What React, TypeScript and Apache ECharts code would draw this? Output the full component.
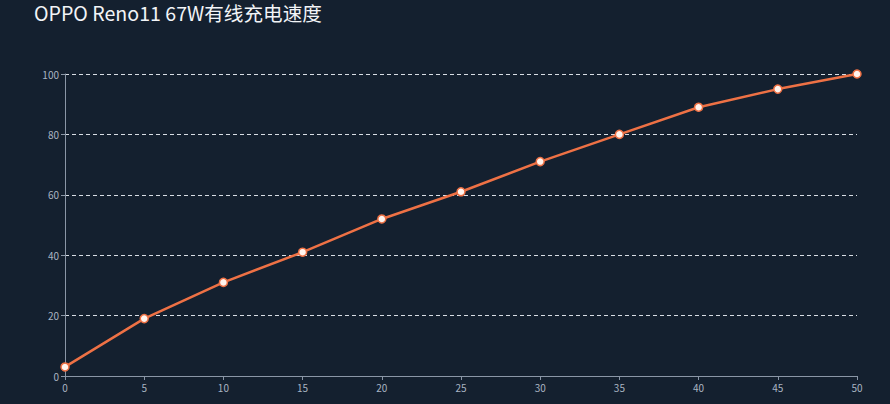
import React, { useEffect, useRef } from "react";
import * as echarts from "echarts";

const titleText = "OPPO Reno11 67W有线充电速度";
const minutes = [0, 5, 10, 15, 20, 25, 30, 35, 40, 45, 50];
const batteryPercent = [3, 19, 31, 41, 52, 61, 71, 80, 89, 95, 100];

export default function App() {
  const ref = useRef<HTMLDivElement>(null);
  useEffect(() => {
    if (!ref.current) return;
    const chart = echarts.init(ref.current, null, { renderer: "svg" });
    chart.setOption({
      animation: false,
      backgroundColor: "#14202f",
      title: {
        text: titleText,
        left: 34,
        top: 1,
        padding: 0,
        textStyle: {
          color: "#f2f4f7",
          fontSize: 19.6,
          lineHeight: 22,
          fontWeight: "normal",
          fontFamily: "Noto Sans CJK SC",
        },
      },
      grid: { left: 65, right: 33, top: 74, bottom: 28 },
      xAxis: {
        type: "value",
        min: 0,
        max: 50,
        interval: 5,
        axisLine: { show: true, lineStyle: { color: "#8a96a6" } },
        axisTick: { show: true, length: 4, lineStyle: { color: "#8a96a6" } },
        axisLabel: { color: "#a9b4c2", fontSize: 10, margin: 6, fontFamily: "Noto Sans CJK SC" },
        splitLine: { show: false },
      },
      yAxis: {
        type: "value",
        min: 0,
        max: 100,
        interval: 20,
        axisLine: { show: true, lineStyle: { color: "#8a96a6" } },
        axisTick: { show: true, length: 4, lineStyle: { color: "#8a96a6" } },
        axisLabel: { color: "#a9b4c2", fontSize: 10, margin: 6, fontFamily: "Noto Sans CJK SC" },
        splitLine: { show: true, lineStyle: { color: "#d8dde4", type: [4, 3], width: 1 } },
      },
      series: [
        {
          type: "line",
          data: minutes.map((m, i) => [m, batteryPercent[i]]),
          symbol: "circle",
          symbolSize: 8,
          lineStyle: { color: "#ee7145", width: 2.5 },
          itemStyle: { color: "#fff4ee", borderColor: "#ee7145", borderWidth: 1.5 },
        },
      ],
    });
    return () => chart.dispose();
  }, []);
  return (
    <div
      ref={ref}
      style={{ position: "absolute", left: 0, top: 0, width: 890, height: 404 }}
    />
  );
}
